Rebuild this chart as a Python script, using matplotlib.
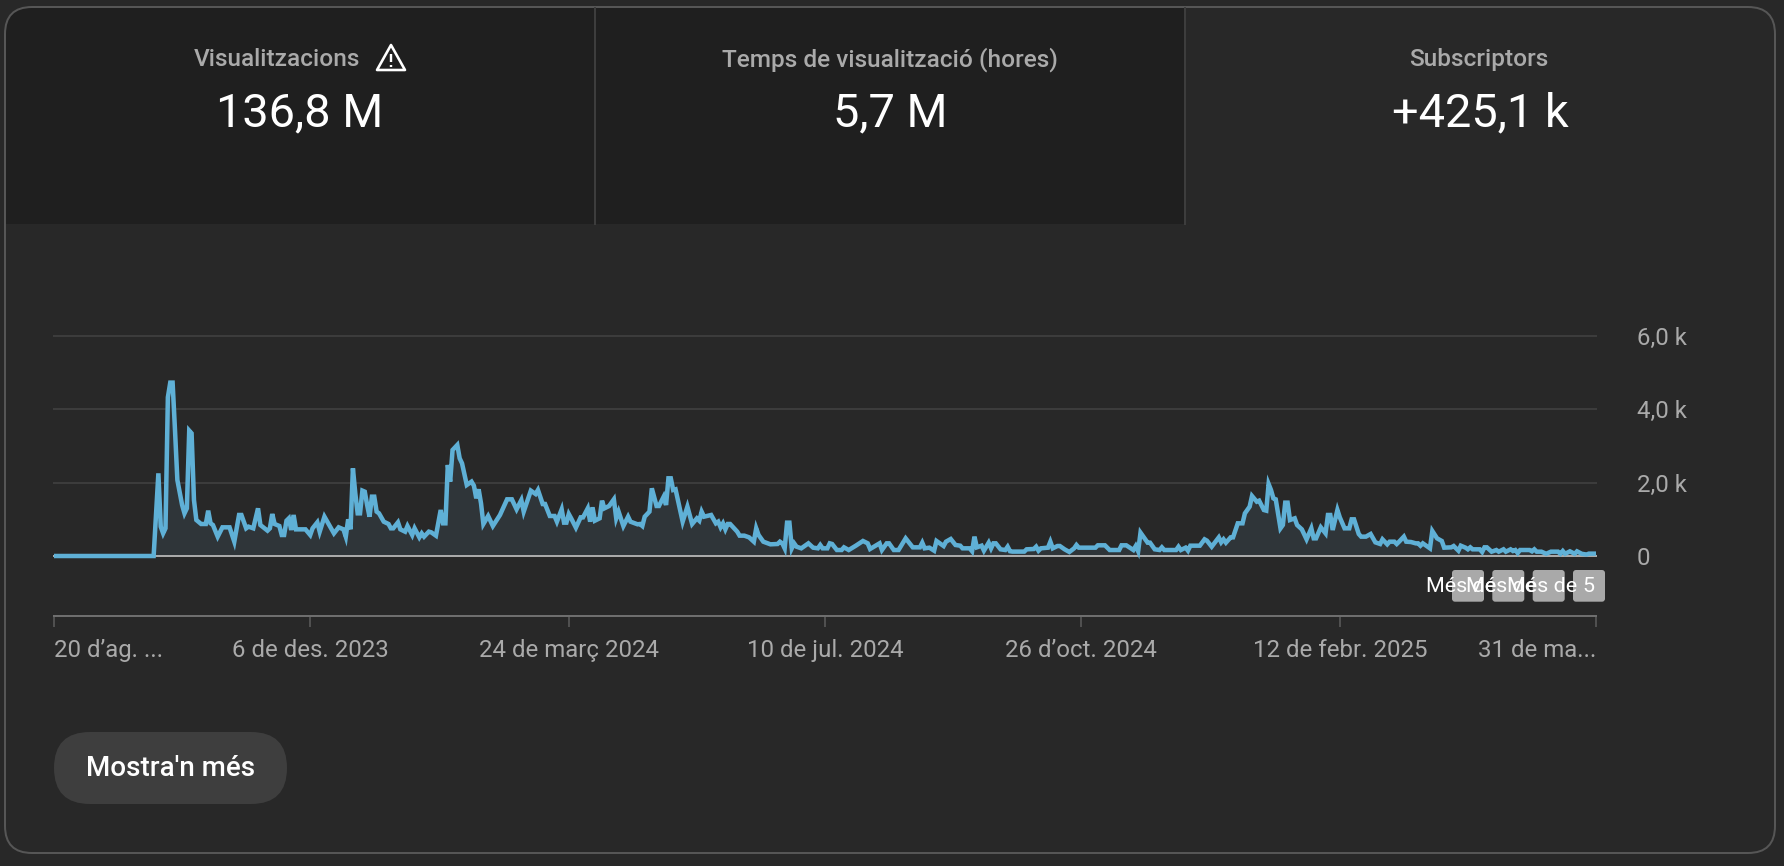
import matplotlib
matplotlib.use("Agg")
import matplotlib.pyplot as plt
from matplotlib.patches import FancyBboxPatch, Rectangle, Polygon

plt.rcParams['font.family'] = ['Roboto', 'DejaVu Sans']

W, H = 1784, 866
PX = 0.72  # px -> pt at dpi 100

BG = '#282828'
TAB = '#1f1f1f'
LINE = '#5fb0d6'
FILL = '#2f3539'
GRID = '#3c3c3c'
MUTED = '#aaaaaa'

# daily views (day offset from 20 Aug 2023, value)
days_a = [0, 42, 44, 45, 46, 47, 48, 49, 50, 51, 52, 54, 55, 56, 57, 58, 59, 60, 62, 64, 65, 66, 67, 69, 71, 74, 76, 78,
          79, 81, 82, 84, 86, 87, 90, 91, 92, 93, 95, 96, 97, 98, 99, 100, 101, 102, 106, 108, 109, 111, 112, 114, 118,
          120, 122, 123, 124, 125, 126, 127, 128, 129, 130, 131, 132, 133, 134, 135, 136, 137, 139, 141, 142, 143, 145,
          146, 148, 149, 151, 152, 154, 155, 156, 158, 159, 161, 163, 164, 165, 166, 167, 168, 170, 171, 172, 174, 176,
          177, 178, 179, 180, 181, 183]
views_a = [0, 0, 2252, 799, 617, 754, 4322, 4722, 4722, 3432, 2070, 1389, 1162, 1298, 3414, 3341, 1525, 981, 872, 872,
           1235, 890, 844, 527, 781, 781, 390, 1117, 1117, 754, 799, 754, 1298, 844, 690, 754, 1144, 872, 817, 572, 572,
           962, 1026, 708, 1117, 726, 726, 572, 754, 917, 663, 1071, 617, 781, 726, 527, 999, 726, 2388, 1707, 1162,
           1162, 1780, 1752, 1389, 1071, 1616, 1616, 1208, 1162, 935, 872, 754, 754, 917, 726, 663, 817, 572, 754, 508,
           617, 527, 663, 645, 554, 1253, 890, 890, 2479, 2025, 2887, 3024, 2660, 2524, 1934, 2025, 1916, 1571, 1816,
           1435, 872, 1090]

days_b = [185, 188, 191, 193, 195, 197, 198, 201, 203, 204, 206, 207, 209, 211, 212, 214, 215, 216, 217, 218, 220, 222,
          223, 225, 226, 227, 228, 230, 231, 232, 234, 236, 237, 238, 240, 242, 243, 246, 247, 248, 249, 251, 252, 254,
          255, 257, 258, 259, 260, 261, 262, 265, 267, 269, 271, 272, 273, 274, 277, 279, 280, 281, 282, 283, 284, 285,
          288, 289, 291, 293, 295, 296, 297, 299, 302, 305, 306, 307, 308, 309, 310, 311, 312, 313, 315, 318, 320, 322,
          323, 324, 326, 327, 328, 330, 332, 333, 335, 338, 341, 343, 344, 348, 349, 351, 352, 354, 356, 359, 362, 365,
          366, 367, 369]
views_b = [817, 1117, 1544, 1544, 1271, 1525, 1208, 1780, 1689, 1798, 1416, 1416, 1090, 1090, 935, 1271, 908, 908, 1144,
           1026, 772, 1053, 1053, 1298, 935, 1326, 962, 1026, 1507, 1298, 1362, 1544, 1026, 1208, 817, 1071, 935, 863,
           872, 817, 1071, 1208, 1843, 1362, 1362, 1616, 1389, 2116, 2116, 1798, 1816, 935, 1344, 872, 1026, 962, 1208,
           1071, 1117, 890, 935, 781, 890, 726, 872, 872, 663, 554, 554, 508, 390, 754, 572, 390, 318, 327, 390, 345,
           209, 908, 908, 209, 345, 254, 209, 345, 227, 209, 300, 209, 209, 345, 327, 163, 163, 236, 163, 281, 409, 345,
           191, 345, 163, 345, 345, 163, 163, 481, 236, 236, 363, 209, 227]

days_c = [371, 372, 375, 376, 378, 380, 382, 383, 386, 387, 388, 389, 391, 392, 394, 395, 396, 397, 399, 401, 402, 403,
          404, 409, 410, 413, 414, 415, 416, 419, 420, 421, 423, 424, 426, 428, 430, 431, 432, 439, 440, 443, 445, 449,
          450, 452, 455, 456, 457, 458, 461, 462, 464, 466, 467, 468, 473, 474, 475, 477, 478, 479, 483, 485, 486, 488,
          491, 492, 493, 494, 496, 497, 499, 501, 502, 504, 505, 507, 508, 510, 511, 512, 513, 514, 515, 517, 518, 519,
          520, 521, 523, 524, 526, 528, 530, 531, 532, 534, 536, 537, 538, 539, 541, 542, 544, 546, 547, 548, 549, 550,
          551, 553, 555]
views_c = [145, 409, 272, 390, 463, 300, 281, 209, 209, 130, 527, 236, 281, 145, 363, 209, 345, 345, 182, 163, 254, 130,
           120, 120, 182, 191, 254, 145, 209, 227, 390, 209, 272, 272, 182, 110, 209, 300, 227, 227, 291, 291, 163, 163,
           291, 291, 163, 272, 130, 636, 363, 363, 182, 163, 236, 163, 163, 254, 163, 227, 145, 281, 281, 454, 418, 254,
           508, 372, 454, 363, 508, 508, 890, 890, 1162, 1344, 1634, 1480, 1507, 1253, 1235, 1961, 1798, 1571, 1544, 754,
           844, 1453, 1453, 981, 1026, 844, 726, 454, 754, 481, 481, 781, 617, 1117, 1117, 708, 1253, 1053, 754, 754, 999,
           999, 799, 599, 527, 527, 599]

days_d = [557, 559, 560, 562, 563, 565, 566, 567, 569, 570, 572, 574, 575, 576, 577, 580, 581, 583, 585, 586, 589, 590,
          592, 593, 595, 596, 597, 598, 601, 602, 603, 604, 606, 608, 609, 611, 612, 614, 615, 616, 617, 618, 622, 623,
          624, 625, 627, 629, 631, 634, 635, 636, 637, 639, 641, 642, 644, 646, 647, 650]
views_d = [372, 327, 454, 318, 390, 390, 327, 390, 527, 390, 381, 345, 345, 281, 345, 209, 681, 481, 409, 227, 236, 272,
           145, 281, 227, 182, 236, 182, 182, 110, 236, 236, 118, 163, 118, 182, 118, 182, 136, 163, 80, 163, 163, 127, 182,
           118, 118, 60, 118, 118, 60, 136, 60, 127, 60, 127, 60, 40, 64, 64]

days = days_a + days_b + days_c + days_d
views = views_a + views_b + views_c + views_d

tick_days = [0, 108, 217, 325, 433, 542, 650]
tick_labels = ['20 d’ag. ...', '6 de des. 2023', '24 de març 2024', '10 de jul. 2024',
               '26 d’oct. 2024', '12 de febr. 2025', '31 de ma...']
y_ticks = [0, 2000, 4000, 6000]
y_labels = ['0', '2,0 k', '4,0 k', '6,0 k']

tab_titles = ['Visualitzacions', 'Temps de visualització (hores)', 'Subscriptors']
tab_values = ['136,8 M', '5,7 M', '+425,1 k']
tab_centers = [300, 890, 1480]

fig = plt.figure(figsize=(W / 100, H / 100), dpi=100, facecolor=BG)

# page layer in pixel coordinates
page = fig.add_axes([0, 0, 1, 1])
page.set_xlim(0, W)
page.set_ylim(H, 0)
page.axis('off')

card_clip = FancyBboxPatch((5, 7), 1770, 846, boxstyle='round,pad=0,rounding_size=27',
                           fc='none', ec='none')
page.add_patch(card_clip)

for x0, x1 in [(5, 595), (595, 1185)]:
    r = Rectangle((x0, 7), x1 - x0, 217, fc=TAB, ec='none', zorder=1)
    page.add_patch(r)
    r.set_clip_path(card_clip)
card_border = FancyBboxPatch((5, 7), 1770, 846, boxstyle='round,pad=0,rounding_size=27',
                             fc='none', ec='#565656', lw=2 * PX, zorder=2)
page.add_patch(card_border)
for x in [595, 1185]:
    page.plot([x, x], [8, 224], color='#3d3d3d', lw=2 * PX, zorder=2)

title_x = [277, 890, 1479]
for x, t in zip(title_x, tab_titles):
    page.text(x, 59.5, t, color=MUTED, fontsize=24.4 * PX, fontweight='medium', ha='center', va='center', zorder=4)
for x, t in zip(tab_centers, tab_values):
    page.text(x, 113.5, t, color='white', fontsize=47 * PX, ha='center', va='center', zorder=4)

# warning icon
page.add_patch(Polygon([(391, 45), (405, 70), (377, 70)], closed=True, fc='none', ec='white',
                       lw=2.6 * PX, joinstyle='round', zorder=4))
page.plot([391, 391], [54, 62], color='white', lw=2.4 * PX, zorder=4, solid_capstyle='butt')
page.plot([391, 391], [64.5, 67], color='white', lw=2.4 * PX, zorder=4, solid_capstyle='butt')

# tooltips stacked over the end of the axis
for x in [1452, 1492.3, 1532.7, 1573]:
    page.add_patch(FancyBboxPatch((x, 570), 32, 31.7, boxstyle='round,pad=0,rounding_size=3',
                                  fc='#a9a9a9', ec='none', zorder=5))
for x in [1426, 1466.5, 1507]:
    page.text(x, 587, 'Més de', color='white', fontsize=21.5 * PX, ha='left', va='center', zorder=6)
page.text(1588, 587, '5', color='white', fontsize=21.5 * PX, ha='center', va='center', zorder=6)

# button
page.add_patch(FancyBboxPatch((54, 732), 233, 72, boxstyle='round,pad=0,rounding_size=36',
                              fc='#3e3e3e', ec='none', zorder=2))
page.text(170.5, 769, "Mostra'n més", color='white', fontsize=27.7 * PX, fontweight='medium',
          ha='center', va='center', zorder=4)

# chart axes: x 54..1596, y 0 at 556, 6 k at 335.7
ax = fig.add_axes([54 / W, 1 - 556 / H, (1596 - 54) / W, (556 - 335.7) / H], zorder=3)
ax.patch.set_alpha(0)
ax.set_xlim(0, 650)
ax.set_ylim(0, 6000)

ax.fill_between(days, views, 0, color=FILL, lw=0, zorder=1)
for v in y_ticks[1:]:
    ax.axhline(v, color=GRID, lw=2 * PX, zorder=0.5, clip_on=False)
ax.axhline(0, color=MUTED, lw=2 * PX, zorder=2, clip_on=False)
ax.plot(days, views, color=LINE, lw=4.5 * PX, solid_joinstyle='miter', solid_capstyle='butt', zorder=3, clip_on=False)

for s in ['top', 'left', 'right']:
    ax.spines[s].set_visible(False)
ax.spines['bottom'].set_position(('outward', 60 * PX))
ax.spines['bottom'].set_color('#6e6e6e')
ax.spines['bottom'].set_linewidth(2 * PX)

ax.set_xticks(tick_days)
ax.set_xticklabels(tick_labels, color=MUTED, fontsize=24 * PX)
ax.tick_params(axis='x', length=11 * PX, width=2 * PX, color='#505050', pad=12 * PX)
tick_text = ax.get_xticklabels()
tick_text[0].set_ha('left')
tick_text[-1].set_ha('right')

ax.yaxis.tick_right()
ax.set_yticks(y_ticks)
ax.set_yticklabels(y_labels, color=MUTED, fontsize=24 * PX, ha='left', va='center_baseline')
ax.tick_params(axis='y', length=0, pad=40.7 * PX)

fig.savefig('out.png', dpi=100, facecolor=BG)
